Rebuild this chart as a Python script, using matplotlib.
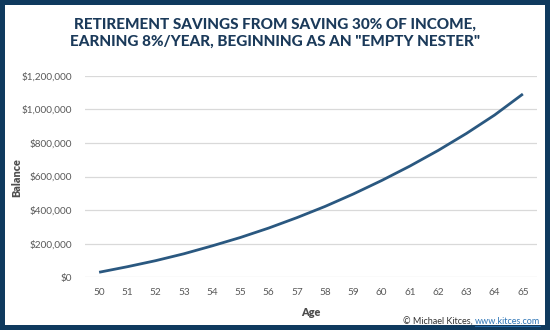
import matplotlib

matplotlib.use("Agg")
import matplotlib.pyplot as plt
from matplotlib.patches import Rectangle
from matplotlib.ticker import FuncFormatter

# balance at each age
ages = [50, 51, 52, 53, 54, 55, 56, 57, 58, 59, 60, 61, 62, 63, 64, 65]
balance = [30000, 63000, 99000, 140000, 187000, 237000, 293000, 355000,
           422000, 496000, 576000, 662000, 755000, 856000, 966000, 1091000]
y_ticks = [0, 200000, 400000, 600000, 800000, 1000000, 1200000]

title = ('RETIREMENT SAVINGS FROM SAVING 30% OF INCOME,\n'
         'EARNING 8%/YEAR, BEGINNING AS AN "EMPTY NESTER"')

NAVY = "#0f3a5e"
LINE = "#2a5880"
GRID = "#d9d9d9"
TXT = "#595959"

plt.rcParams["font.family"] = ["Lato", "DejaVu Sans"]

fig = plt.figure(figsize=(5.5, 3.3), dpi=100)
fig.patch.set_facecolor(NAVY)
# white card inside the navy frame
fig.add_artist(Rectangle((5 / 550, 5 / 330), 540 / 550, 320 / 330,
                         transform=fig.transFigure, facecolor="white",
                         edgecolor="none", zorder=0))

ax = fig.add_axes([85 / 550, 1 - 277.3 / 330, 452 / 550, 201.6 / 330])
ax.set_facecolor("none")

x = list(range(len(ages)))
ax.plot(x, balance, color=LINE, lw=2.0, solid_capstyle="butt", zorder=3)

ax.set_xlim(-0.5, len(ages) - 0.5)
ax.set_ylim(0, 1200000)
ax.set_xticks(x)
ax.set_xticklabels([str(a) for a in ages])
ax.set_yticks(y_ticks)
ax.yaxis.set_major_formatter(FuncFormatter(lambda v, p: f"${v:,.0f}"))
ax.grid(axis="y", color=GRID, lw=0.9)
ax.set_axisbelow(True)
for s in ax.spines.values():
    s.set_visible(False)
ax.tick_params(length=0, colors=TXT, labelsize=7.2)
ax.tick_params(axis="y", pad=9)
ax.tick_params(axis="x", pad=8)

ax.set_xlabel("Age", fontsize=7.8, fontweight="heavy", color="#4d4d4d",
              labelpad=7)
fig.text(17 / 550, 1 - 178 / 330, "Balance", rotation=90, ha="center",
         va="center", fontsize=7.8, fontweight="heavy", color="#4d4d4d")

fig.text(0.5, 1 - 33 / 330, title, ha="center", va="center", fontsize=11,
         fontweight="black", color="#1b3a5a", linespacing=1.3)

# credit line, url underlined in blue
t1 = fig.text(1 - 10 / 550, 1 - 322 / 330, "www.kitces.com", ha="right",
              va="center", fontsize=6.5, color="#2e75b6")
fig.canvas.draw()
bb = t1.get_window_extent()
fig.add_artist(plt.Line2D([bb.x0 / 550, bb.x1 / 550],
                          [(bb.y0 + 0.5) / 330] * 2, transform=fig.transFigure,
                          color="#2e75b6", lw=0.6))
fig.text(bb.x0 / 550, 1 - 322 / 330, "© Michael Kitces, ", ha="right",
         va="center", fontsize=6.5, color="#333333")

fig.savefig("out.png", dpi=100, facecolor=fig.get_facecolor())
